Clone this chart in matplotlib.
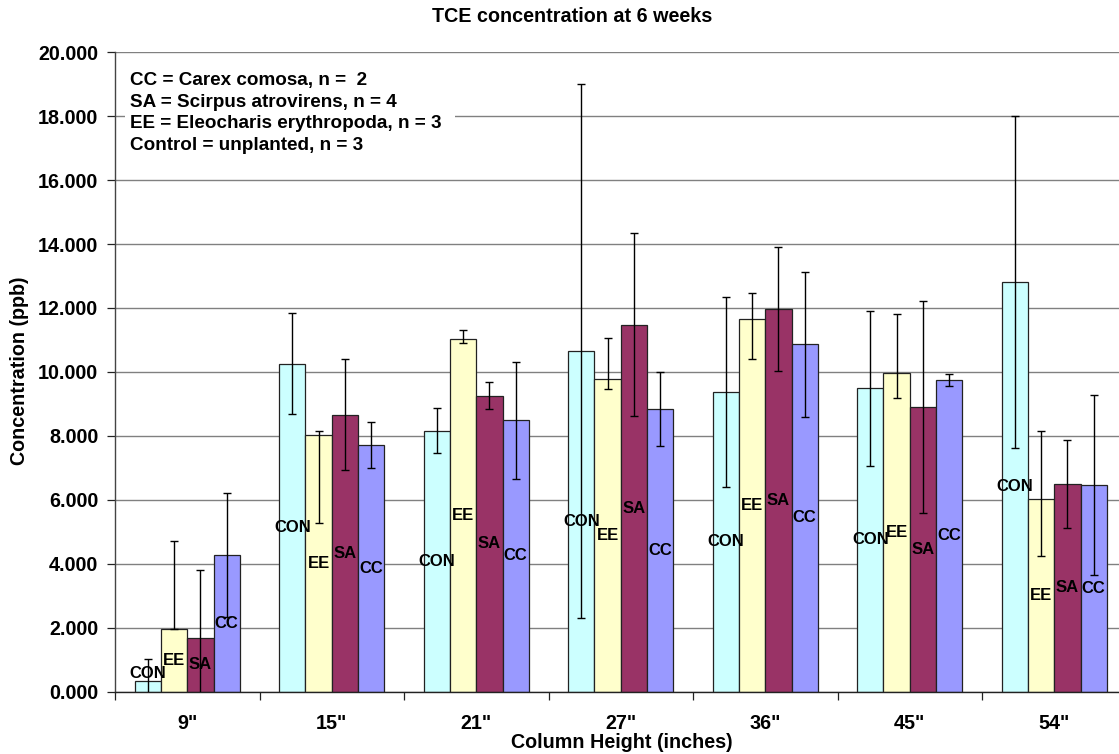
import matplotlib
matplotlib.use("Agg")
import matplotlib.pyplot as plt
from matplotlib.patches import Rectangle
import numpy as np

plt.rcParams['font.family'] = ['Liberation Sans', 'DejaVu Sans']
plt.rcParams['font.weight'] = 'bold'

categories = ['9"', '15"', '21"', '27"', '36"', '45"', '54"']
series_names = ['CON', 'EE', 'SA', 'CC']

con_mean = [0.34, 10.26, 8.16, 10.65, 9.36, 9.49, 12.81]
con_err = [0.67, 1.58, 0.71, 8.35, 2.97, 2.42, 5.19]

ee_mean = [1.96, 8.04, 11.02, 9.77, 11.66, 9.98, 6.03]
ee_err_low = [0.0, 2.77, 0.12, 0.30, 1.27, 0.79, 1.80]
ee_err_high = [2.76, 0.12, 0.29, 1.29, 0.81, 1.82, 2.12]

sa_mean = [1.68, 8.66, 9.26, 11.48, 11.96, 8.91, 6.49]
sa_err = [2.12, 1.74, 0.42, 2.87, 1.94, 3.31, 1.37]

cc_mean = [4.27, 7.71, 8.49, 8.83, 10.86, 9.74, 6.45]
cc_err = [1.93, 0.72, 1.83, 1.16, 2.26, 0.19, 2.82]

legend_lines = [
    "CC = Carex comosa, n =  2",
    "SA = Scirpus atrovirens, n = 4",
    "EE = Eleocharis erythropoda, n = 3",
    "Control = unplanted, n = 3",
]

colors = ['#CCFFFF', '#FFFFCC', '#993366', '#9999FF']

W, H = 1119, 754
fig = plt.figure(figsize=(W / 100, H / 100), dpi=100)
left, right, bottom, top = 115, 1126.5, 691.5, 52.3
ax = fig.add_axes([left / W, 1 - bottom / H, (right - left) / W, (bottom - top) / H])

x = np.arange(len(categories))
bw = 0.182
means = [con_mean, ee_mean, sa_mean, cc_mean]
errs = [
    [con_err, con_err],
    [ee_err_low, ee_err_high],
    [sa_err, sa_err],
    [cc_err, cc_err],
]
for i, (m, e, c, name) in enumerate(zip(means, errs, colors, series_names)):
    xs = x + (i - 1.5) * bw
    ax.bar(xs, m, width=bw, color=c, edgecolor='#222222', linewidth=0.9, zorder=2)
    ax.errorbar(xs, m, yerr=[e[0], e[1]], fmt='none', ecolor='black',
                elinewidth=1.0, capsize=3, capthick=1.0, zorder=3)
    for xi, v in zip(xs, m):
        ax.text(xi, max(v / 2, 0.57), name, ha='center', va='center',
                fontsize=12, fontweight='bold', color='black', zorder=4)

ax.set_xlim(-0.5, len(categories) - 0.5)
ax.set_ylim(0, 20)
ax.set_yticks(np.arange(0, 20.1, 2))
ax.set_yticklabels([f"{v:.3f}" for v in np.arange(0, 20.1, 2)])
ax.set_xticks(x)
ax.set_xticklabels(categories)
ax.set_xticks(np.arange(-0.5, len(categories) + 0.5, 1), minor=True)
ax.tick_params(axis='x', which='major', length=0, pad=16, labelsize=14.2)
ax.tick_params(axis='x', which='minor', length=6, width=0.9, color='#222222')
ax.tick_params(axis='y', length=6, width=0.9, color='#222222', pad=6, labelsize=14.2)
for lab in ax.get_xticklabels() + ax.get_yticklabels():
    lab.set_fontweight('bold')

ax.yaxis.grid(True, color='#808080', linewidth=1.0, zorder=0)
ax.set_axisbelow(True)
for s in ['top', 'right']:
    ax.spines[s].set_visible(False)
ax.spines['left'].set_color('#444444')
ax.spines['bottom'].set_color('#222222')
ax.spines['left'].set_linewidth(1.0)
ax.spines['bottom'].set_linewidth(1.0)

# white box behind the legend text
ax.add_patch(Rectangle((125 / W, 1 - 165 / H), (455 - 125) / W, (165 - 57) / H,
                       transform=fig.transFigure, facecolor='white',
                       edgecolor='none', zorder=1))
for k, line in enumerate(legend_lines):
    fig.text(130 / W, 1 - (85 + 21.7 * k) / H, line, ha='left', va='baseline',
             fontsize=13.6, fontweight='bold')

fig.text(572 / W, 1 - 16 / H, "TCE concentration at 6 weeks", ha='center',
         va='center', fontsize=14.2, fontweight='bold')
fig.text(622 / W, 1 - 742 / H, "Column Height (inches)", ha='center',
         va='center', fontsize=14.2, fontweight='bold')
fig.text(20 / W, 1 - (371) / H, "Concentration (ppb)", ha='center',
         va='center', rotation=90, fontsize=14.2, fontweight='bold')

fig.savefig("out.png", dpi=100, facecolor='white')
